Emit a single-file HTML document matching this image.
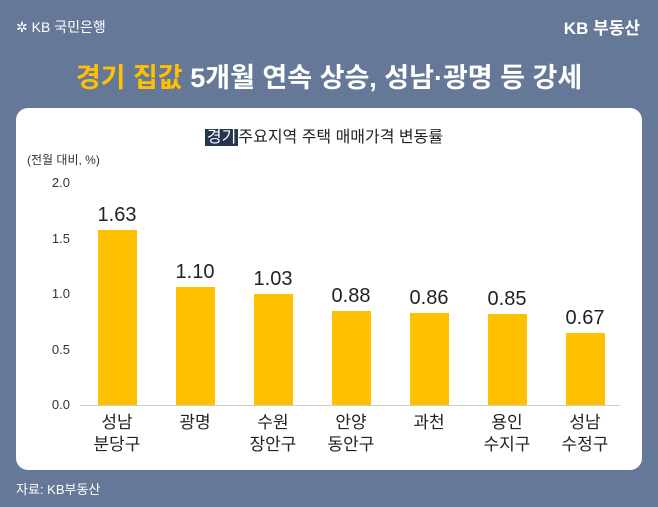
<!DOCTYPE html>
<html><head><meta charset="utf-8"><style>
body{margin:0;width:658px;height:507px;overflow:hidden;background:#657898;font-family:"Liberation Sans","Noto Sans CJK KR",sans-serif;position:relative}
.a{position:absolute;white-space:nowrap}
.card{position:absolute;left:16px;top:108px;width:626px;height:362px;background:#fff;border-radius:12px}
.bar{position:absolute;background:#ffc000;width:39px}
.v{position:absolute;width:80px;text-align:center;font-size:20px;color:#222}
.c{position:absolute;width:80px;text-align:center;font-size:17px;color:#222;line-height:22px}
.t{position:absolute;left:40px;width:30px;text-align:right;font-size:13px;color:#333}
</style></head><body>
<div class="a" style="left:16px;top:17px;color:#fff;font-size:14px">✲ KB 국민은행</div>
<div class="a" style="right:18px;top:14px;color:#fff;font-size:17px;font-weight:bold">KB 부동산</div>
<div class="a" style="left:0;width:658px;text-align:center;top:56px;font-size:27px;font-weight:bold;color:#fff"><span style="color:#ffc000">경기 집값</span> 5개월 연속 상승, 성남·광명 등 강세</div>
<div class="card"></div>
<div class="a" style="left:0;width:648px;text-align:center;top:123px;font-size:16px;color:#222"><span style="background:#253550;color:#fff;padding:0 2px">경기</span>주요지역 주택 매매가격 변동률</div>
<div class="a" style="left:27px;top:151px;font-size:12px;color:#333">(전월 대비, %)</div>
<div class="t" style="top:175px">2.0</div>
<div class="t" style="top:231px">1.5</div>
<div class="t" style="top:286px">1.0</div>
<div class="t" style="top:342px">0.5</div>
<div class="t" style="top:397px">0.0</div>
<div class="a" style="left:80px;top:405px;width:540px;height:1px;background:#ccc"></div>
<div class="bar" style="left:98px;top:230px;height:175px"></div>
<div class="bar" style="left:176px;top:287px;height:118px"></div>
<div class="bar" style="left:254px;top:294px;height:111px"></div>
<div class="bar" style="left:332px;top:311px;height:94px"></div>
<div class="bar" style="left:410px;top:313px;height:92px"></div>
<div class="bar" style="left:488px;top:314px;height:91px"></div>
<div class="bar" style="left:566px;top:333px;height:72px"></div>
<div class="v" style="left:77px;top:204px">1.63</div>
<div class="v" style="left:155px;top:261px">1.10</div>
<div class="v" style="left:233px;top:268px">1.03</div>
<div class="v" style="left:311px;top:285px">0.88</div>
<div class="v" style="left:389px;top:287px">0.86</div>
<div class="v" style="left:467px;top:288px">0.85</div>
<div class="v" style="left:545px;top:307px">0.67</div>
<div class="c" style="left:77px;top:412px">성남<br>분당구</div>
<div class="c" style="left:155px;top:412px">광명</div>
<div class="c" style="left:233px;top:412px">수원<br>장안구</div>
<div class="c" style="left:311px;top:412px">안양<br>동안구</div>
<div class="c" style="left:389px;top:412px">과천</div>
<div class="c" style="left:467px;top:412px">용인<br>수지구</div>
<div class="c" style="left:545px;top:412px">성남<br>수정구</div>
<div class="a" style="left:16px;top:479px;font-size:13px;color:#fff">자료: KB부동산</div>
</body></html>
